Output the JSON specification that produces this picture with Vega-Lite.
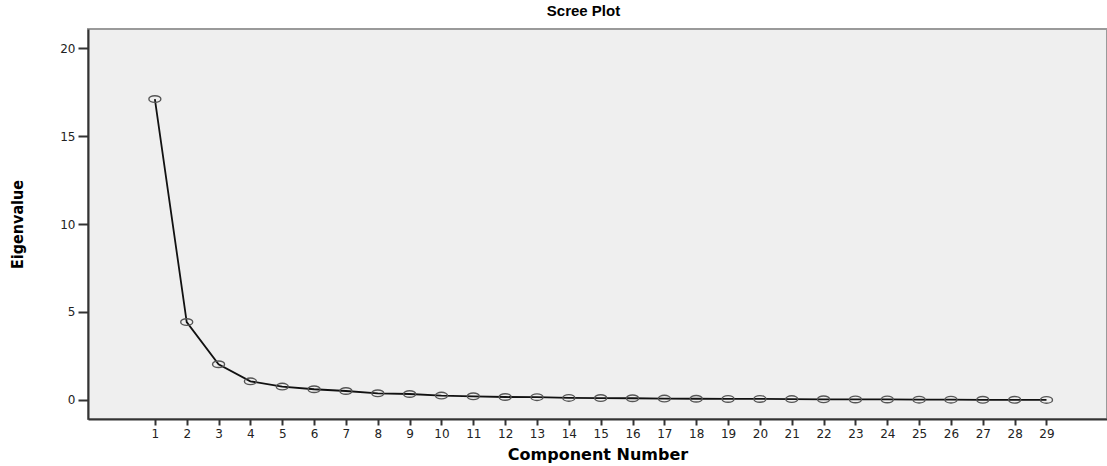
{
  "$schema": "https://vega.github.io/schema/vega-lite/v6.json",
  "width": 1019,
  "height": 390,
  "autosize": {"type": "none"},
  "padding": {"left": 88, "top": 29, "right": 0, "bottom": 47},
  "background": "white",
  "title": {"text": "Scree Plot", "font": "Liberation Sans", "fontSize": 15, "fontWeight": "bold", "color": "#000", "offset": 10, "anchor": "middle", "dx": -14},
  "config": {
    "view": {"fill": "#efefef", "stroke": "#9a9a9a", "strokeWidth": 2},
    "axis": {"grid": false, "domainColor": "#333", "domainWidth": 2, "tickColor": "#333", "tickWidth": 2, "labelFont": "DejaVu Sans", "labelFontSize": 12, "labelColor": "#222", "titleColor": "#000"}
  },
  "data": {"values": [
    {"component": 1, "eigenvalue": 17.1},
    {"component": 2, "eigenvalue": 4.43},
    {"component": 3, "eigenvalue": 2.03},
    {"component": 4, "eigenvalue": 1.06},
    {"component": 5, "eigenvalue": 0.76},
    {"component": 6, "eigenvalue": 0.61},
    {"component": 7, "eigenvalue": 0.51},
    {"component": 8, "eigenvalue": 0.38},
    {"component": 9, "eigenvalue": 0.34},
    {"component": 10, "eigenvalue": 0.25},
    {"component": 11, "eigenvalue": 0.21},
    {"component": 12, "eigenvalue": 0.17},
    {"component": 13, "eigenvalue": 0.16},
    {"component": 14, "eigenvalue": 0.12},
    {"component": 15, "eigenvalue": 0.11},
    {"component": 16, "eigenvalue": 0.1},
    {"component": 17, "eigenvalue": 0.08},
    {"component": 18, "eigenvalue": 0.07},
    {"component": 19, "eigenvalue": 0.06},
    {"component": 20, "eigenvalue": 0.06},
    {"component": 21, "eigenvalue": 0.05},
    {"component": 22, "eigenvalue": 0.04},
    {"component": 23, "eigenvalue": 0.03},
    {"component": 24, "eigenvalue": 0.03},
    {"component": 25, "eigenvalue": 0.02},
    {"component": 26, "eigenvalue": 0.02},
    {"component": 27, "eigenvalue": 0.01},
    {"component": 28, "eigenvalue": 0.01},
    {"component": 29, "eigenvalue": 0.005}
  ]},
  "encoding": {
    "x": {"field": "component", "type": "quantitative",
      "scale": {"domain": [-1.1, 30.9], "nice": false, "zero": false},
      "axis": {"values": [1,2,3,4,5,6,7,8,9,10,11,12,13,14,15,16,17,18,19,20,21,22,23,24,25,26,27,28,29], "domain": true, "tickSize": 6, "labelPadding": 3, "title": "Component Number", "titleFont": "DejaVu Sans", "titleFontSize": 16, "titleFontWeight": "bold", "titlePadding": 7}},
    "y": {"field": "eigenvalue", "type": "quantitative",
      "scale": {"domain": [-1.08, 21.08], "nice": false, "zero": false},
      "axis": {"values": [0, 5, 10, 15, 20], "tickSize": 10, "labelPadding": 3, "title": "Eigenvalue", "titleFont": "DejaVu Sans Condensed", "titleFontSize": 16, "titleFontWeight": "bold", "titlePadding": 34}}
  },
  "layer": [
    {"mark": {"type": "line", "color": "#111", "strokeWidth": 1.8}},
    {"mark": {"type": "point", "shape": "M-1,0A1,0.55 0 1,0 1,0A1,0.55 0 1,0 -1,0Z", "size": 144, "filled": false, "stroke": "#555", "strokeWidth": 1.4, "fill": "transparent", "opacity": 1}}
  ]
}
